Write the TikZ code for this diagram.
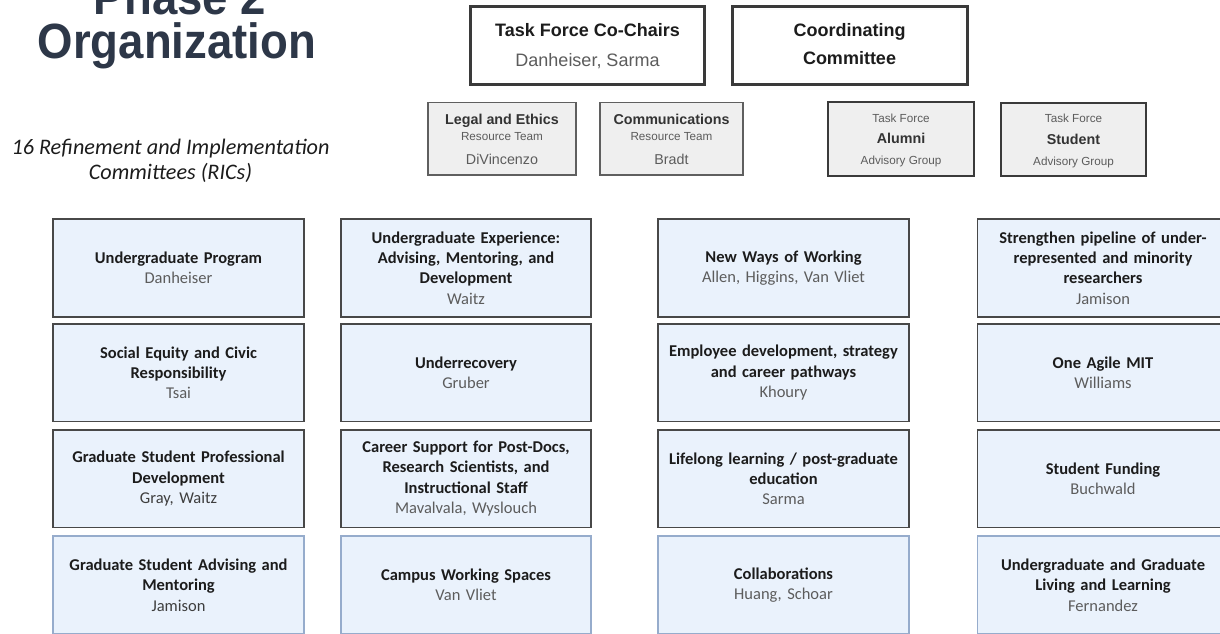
\documentclass[tikz,border=0pt]{standalone}
\usepackage{fontspec}
\usepackage{graphicx}
\setmainfont{Carlito}
\newfontfamily\arialf{Liberation Sans}
\definecolor{titlecol}{RGB}{45,55,72}
\definecolor{ricfill}{RGB}{234,242,252}
\definecolor{ricdraw}{RGB}{72,72,72}
\definecolor{ricblue}{RGB}{150,172,204}
\definecolor{namegray}{RGB}{92,92,92}
\definecolor{grayfill}{RGB}{239,239,239}
\definecolor{topdraw}{RGB}{58,58,58}
\definecolor{lightdraw}{RGB}{95,95,95}
\definecolor{textdark}{RGB}{28,28,28}
\begin{document}
\begin{tikzpicture}[x=1pt,y=-1pt,
  ric/.style={draw=ricdraw, fill=ricfill, line width=1.6pt, minimum width=251pt, minimum height=97.5pt,
    text width=250pt, align=center, inner sep=0pt, font=\fontsize{16.5}{20.4}\selectfont, text=textdark},
  ricb/.style={ric, draw=ricblue},
  chair/.style={draw=topdraw, line width=3pt, fill=white, minimum width=234pt, minimum height=78pt, inner sep=0pt},
  res/.style={draw=lightdraw, line width=1.5pt, fill=grayfill, inner sep=0pt},
  adv/.style={draw=topdraw, line width=2.2pt, fill=grayfill, inner sep=0pt},
  lbl/.style={anchor=base, inner sep=0pt},
  bigb/.style={lbl, text=textdark, font=\arialf\bfseries\fontsize{18}{20}\selectfont},
  bign/.style={lbl, text=namegray, font=\arialf\fontsize{18}{20}\selectfont},
  midb/.style={lbl, text=textdark!90, font=\arialf\bfseries\fontsize{14.3}{16}\selectfont},
  midn/.style={lbl, text=namegray, font=\arialf\fontsize{14.3}{16}\selectfont},
  smln/.style={lbl, text=namegray, font=\arialf\fontsize{11.7}{13}\selectfont},
  nm/.style={text=namegray}
]
\useasboundingbox (0,0) rectangle (1220,633);
\clip (0,0) rectangle (1220,633);

% Title
\node[lbl, text=titlecol, font=\arialf\bfseries\fontsize{49.5}{50}\selectfont] (title1) at (180,14) {\scalebox{0.92}[1]{Phase 2}};
\node[lbl, text=titlecol, font=\arialf\bfseries\fontsize{49.5}{50}\selectfont] (title2) at (177,58) {\scalebox{0.92}[1]{Organization}};

% Subtitle
\node[lbl, text=textdark, font=\itshape\fontsize{22.2}{27}\selectfont] (sub1) at (170.5,154.5) {16 Refinement and Implementation};
\node[lbl, text=textdark, font=\itshape\fontsize{22.2}{27}\selectfont] (sub2) at (170.5,179.5) {Committees (RICs)};

% Top boxes
\node[chair] (chairs) at (587.5,45.5) {};
\node[bigb] (chairs-t) at (587.5,36.7) {Task Force Co-Chairs};
\node[bign] (chairs-n) at (587.5,66.5) {Danheiser, Sarma};

\node[chair, minimum width=235pt] (coord) at (849.5,45.5) {};
\node[bigb] (coord-t1) at (849.5,36) {Coordinating};
\node[bigb] (coord-t2) at (849.5,64.5) {Committee};

\node[res, minimum width=148pt, minimum height=72.5pt] (legal) at (502,138.5) {};
\node[midb] (legal-t) at (502,124.5) {Legal and Ethics};
\node[smln] (legal-s) at (502,140.7) {Resource Team};
\node[midn] (legal-n) at (502,164) {DiVincenzo};

\node[res, minimum width=143pt, minimum height=72.5pt] (comm) at (671.5,138.5) {};
\node[midb] (comm-t) at (671.5,124.5) {Communications};
\node[smln] (comm-s) at (671.5,140.7) {Resource Team};
\node[midn] (comm-n) at (671.5,164) {Bradt};

\node[adv, minimum width=146pt, minimum height=74pt] (alum) at (901,139) {};
\node[smln] (alum-s1) at (901,122) {Task Force};
\node[midb] (alum-t) at (901,143.5) {Alumni};
\node[smln] (alum-s2) at (901,164.5) {Advisory Group};

\node[adv, minimum width=145pt, minimum height=73pt] (stud) at (1073.5,139.5) {};
\node[smln] (stud-s1) at (1073.5,122.5) {Task Force};
\node[midb] (stud-t) at (1073.5,144) {Student};
\node[smln] (stud-s2) at (1073.5,165) {Advisory Group};

% RIC column 1
\node[ric] (c1r1) at (178.5,268) {\textbf{Undergraduate Program}\\\textcolor{namegray}{Danheiser}};
\node[ric] (c1r2) at (178.5,372.7) {\textbf{Social Equity and Civic}\\\textbf{Responsibility}\\\textcolor{namegray}{Tsai}};
\node[ric] (c1r3) at (178.5,478.7) {\textbf{Graduate Student Professional}\\\textbf{Development}\\\textcolor{textdark!85}{Gray, Waitz}};
\node[ricb] (c1r4) at (178.5,585) {\textbf{Graduate Student Advising and}\\\textbf{Mentoring}\\\textcolor{textdark!85}{Jamison}};

% RIC column 2
\node[ric, minimum width=250pt] (c2r1) at (466,268) {\textbf{Undergraduate Experience:}\\\textbf{Advising, Mentoring, and}\\\textbf{Development}\\\textcolor{namegray}{Waitz}};
\node[ric, minimum width=250pt] (c2r2) at (466,372.7) {\textbf{Underrecovery}\\\textcolor{namegray}{Gruber}};
\node[ric, minimum width=250pt] (c2r3) at (466,478.7) {\textbf{Career Support for Post-Docs,}\\\textbf{Research Scientists, and}\\\textbf{Instructional Staff}\\\textcolor{namegray}{Mavalvala, Wyslouch}};
\node[ricb, minimum width=250pt] (c2r4) at (466,585) {\textbf{Campus Working Spaces}\\\textcolor{namegray}{Van Vliet}};

% RIC column 3
\node[ric] (c3r1) at (783.5,268) {\textbf{New Ways of Working}\\\textcolor{namegray}{Allen, Higgins, Van Vliet}};
\node[ric] (c3r2) at (783.5,372.7) {\textbf{Employee development, strategy}\\\textbf{and career pathways}\\\textcolor{namegray}{Khoury}};
\node[ric] (c3r3) at (783.5,478.7) {\textbf{Lifelong learning / post-graduate}\\\textbf{education}\\\textcolor{namegray}{Sarma}};
\node[ricb] (c3r4) at (783.5,585) {\textbf{Collaborations}\\\textcolor{namegray}{Huang, Schoar}};

% RIC column 4
\node[ric] (c4r1) at (1103,268) {\textbf{Strengthen pipeline of under-}\\\textbf{represented and minority}\\\textbf{researchers}\\\textcolor{namegray}{Jamison}};
\node[ric] (c4r2) at (1103,372.7) {\textbf{One Agile MIT}\\\textcolor{namegray}{Williams}};
\node[ric] (c4r3) at (1103,478.7) {\textbf{Student Funding}\\\textcolor{namegray}{Buchwald}};
\node[ricb] (c4r4) at (1103,585) {\textbf{Undergraduate and Graduate}\\\textbf{Living and Learning}\\\textcolor{namegray}{Fernandez}};
\end{tikzpicture}
\end{document}
